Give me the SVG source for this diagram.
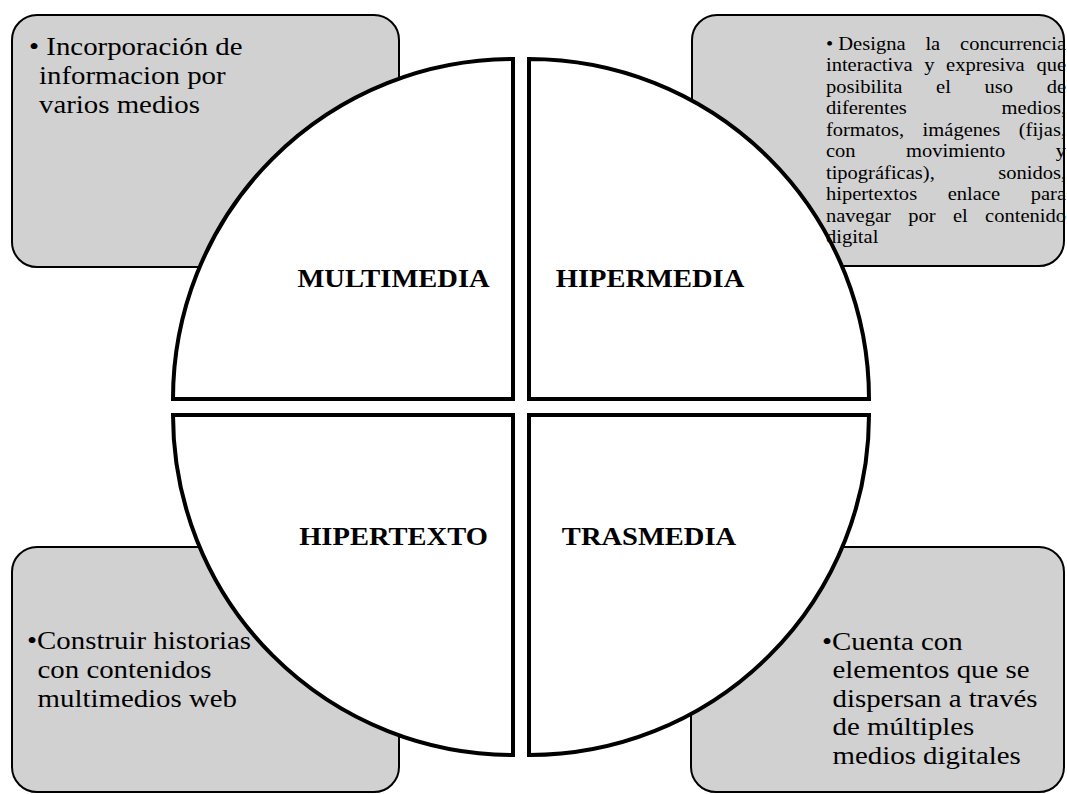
<svg xmlns="http://www.w3.org/2000/svg" width="1067" height="794" viewBox="0 0 1067 794">
<style>
.box{fill:#d1d1d1;stroke:#000;stroke-width:2}
.q{fill:#fff;stroke:#000;stroke-width:4;stroke-linejoin:miter}
.t{font-family:"Liberation Serif","Times New Roman",serif;font-size:26px;fill:#000}
.s{font-family:"Liberation Serif","Times New Roman",serif;font-size:18.5px;fill:#000}
.h{font-family:"Liberation Serif","Times New Roman",serif;font-size:25.7px;font-weight:bold;fill:#000;text-anchor:middle}
</style>
<rect width="1067" height="794" fill="#fff"/>
<g id="box-tl"><rect class="box" x="12" y="15" width="387" height="252" rx="25"/></g>
<g id="box-tr"><rect class="box" x="692" y="15" width="372" height="251" rx="25"/></g>
<g id="box-bl"><rect class="box" x="12" y="547" width="387" height="245" rx="25"/></g>
<g id="box-br"><rect class="box" x="691" y="547" width="373" height="245" rx="25"/></g>
<g id="connectors"></g>
<g id="q-multimedia"><path class="q" d="M513,399 L173,399 A340,340 0 0 1 513,59 Z"/>
<text class="h" transform="translate(393.5,287) scale(1.11,1)">MULTIMEDIA</text></g>
<g id="q-hipermedia"><path class="q" d="M529,399 L529,59 A340,340 0 0 1 869,399 Z"/>
<text class="h" transform="translate(650,287) scale(1.11,1)">HIPERMEDIA</text></g>
<g id="q-trasmedia"><path class="q" d="M529,415 L869,415 A340,340 0 0 1 529,755 Z"/>
<text class="h" transform="translate(649,545) scale(1.11,1)">TRASMEDIA</text></g>
<g id="q-hipertexto"><path class="q" d="M513,415 L513,755 A340,340 0 0 1 173,415 Z"/>
<text class="h" transform="translate(393.5,545) scale(1.11,1)">HIPERTEXTO</text></g>
<g id="text-tl"><text class="t" transform="translate(29,55) scale(1.11,1)"><tspan x="0" y="0">• Incorporación de</tspan><tspan x="9" y="29">informacion por</tspan><tspan x="9" y="58">varios medios</tspan></text></g>
<g id="text-bl"><text class="t" transform="translate(27,649) scale(1.11,1)"><tspan x="0" y="0">•Construir historias</tspan><tspan x="9.5" y="29">con contenidos</tspan><tspan x="9.5" y="58">multimedios web</tspan></text></g>
<g id="text-br"><text class="t" transform="translate(822,650) scale(1.11,1)"><tspan x="0" y="0">•Cuenta con</tspan><tspan x="9.5" y="28.5">elementos que se</tspan><tspan x="9.5" y="57">dispersan a través</tspan><tspan x="9.5" y="85.5">de múltiples</tspan><tspan x="9.5" y="114">medios digitales</tspan></text></g>
<g id="text-tr" transform="scale(1.11,1)" class="s">
<text x="744.1" y="50">•</text>
<text x="755.2" y="50">Designa</text><text x="833.7" y="50">la</text><text x="960.4" y="50" text-anchor="end">concurrencia</text>
<text x="744.1" y="71.5">interactiva</text><text x="832.6" y="71.5">y</text><text x="852.3" y="71.5">expresiva</text><text x="960.4" y="71.5" text-anchor="end">que</text>
<text x="744.1" y="93">posibilita</text><text x="843.3" y="93">el</text><text x="886.9" y="93">uso</text><text x="960.4" y="93" text-anchor="end">de</text>
<text x="744.1" y="114.5">diferentes</text><text x="960.4" y="114.5" text-anchor="end">medios,</text>
<text x="744.1" y="136">formatos,</text><text x="831.2" y="136">imágenes</text><text x="960.4" y="136" text-anchor="end">(fijas,</text>
<text x="744.1" y="157.5">con</text><text x="816.3" y="157.5">movimiento</text><text x="960.4" y="157.5" text-anchor="end">y</text>
<text x="744.1" y="179">tipográficas),</text><text x="960.4" y="179" text-anchor="end">sonidos,</text>
<text x="744.1" y="200.5">hipertextos</text><text x="853.8" y="200.5">enlace</text><text x="960.4" y="200.5" text-anchor="end">para</text>
<text x="744.1" y="222">navegar</text><text x="818.2" y="222">por</text><text x="858.5" y="222">el</text><text x="960.4" y="222" text-anchor="end">contenido</text>
<text x="744.1" y="243.5">digital</text>
</g>
</svg>
